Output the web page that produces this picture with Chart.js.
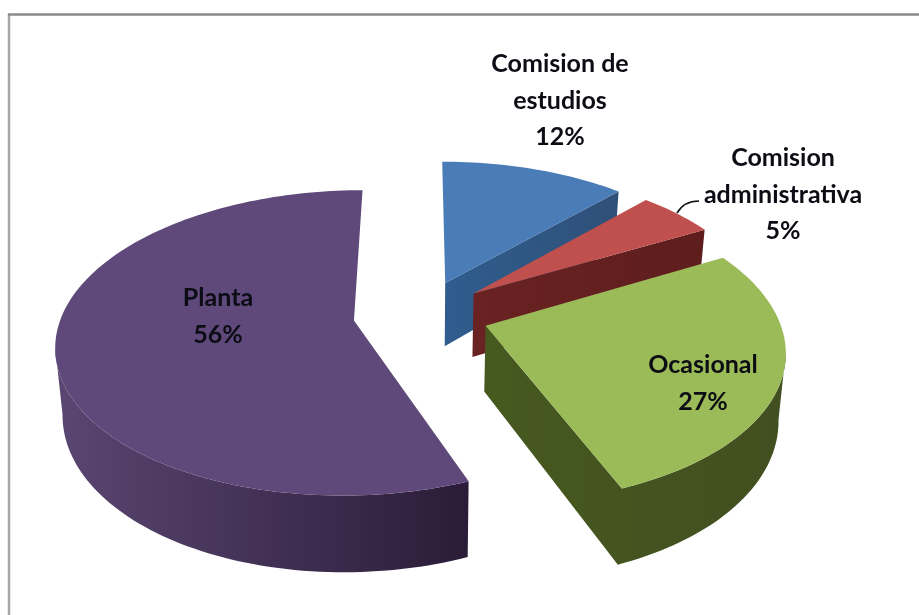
<!DOCTYPE html>
<html>
<head>
<meta charset="utf-8">
<style>html,body{margin:0;padding:0;background:#fff}#wrap{width:919px;height:615px}</style>
<script src="https://cdn.jsdelivr.net/npm/chart.js@4"></script>
</head>
<body>
<div id="wrap"><canvas id="c" width="919" height="615"></canvas></div>
<script>
const categories = ['Comision de estudios', 'Comision administrativa', 'Ocasional', 'Planta'];
const values = [12, 5, 27, 56];
const tickLabels = ['12%', '5%', '27%', '56%'];
const explode = [64, 64, 64, 64];
const topColors = ['#4a7cb8', '#c0504d', '#9bbb59', '#5f497a'];
const sideLight = ['#2f5d8e', '#6a2222', '#46591f', '#5a4672'];
const sideDark = ['#2f5078', '#5e1d1d', '#424f20', '#2a1c38'];
const labelLines = [['Comision de', 'estudios'], ['Comision', 'administrativa'], ['Ocasional'], ['Planta']];
const labelAnchors = [[560, 64], [783, 158], [703, 365], [218, 298]];
const view = {cx: 421, cy: 314, A: 292, B: 147.5, k: 0.146, depth: 65, shrink: 0.98};

function project(u, v) {
  const w = 1 + view.k * v;
  return {x: view.cx + view.A * u / w, y: view.cy - view.B * v / w, w};
}
function outline(arc) {
  const p = arc.getProps(['startAngle', 'endAngle', 'outerRadius']);
  const R = p.outerRadius, d = arc.options.offset / R;
  const a0 = p.startAngle + Math.PI / 2, a1 = p.endAngle + Math.PI / 2, m = (a0 + a1) / 2;
  const ou = d * Math.sin(m), ov = d * Math.cos(m);
  const pts = [project(ou, ov)];
  const n = Math.max(8, Math.ceil((a1 - a0) * 40));
  for (let i = 0; i <= n; i++) {
    const t = a0 + (a1 - a0) * i / n;
    pts.push(project(ou + Math.sin(t), ov + Math.cos(t)));
  }
  return pts;
}
function lower(q) {
  return {x: view.cx + (q.x - view.cx) * view.shrink, y: q.y + view.depth / q.w};
}
function fillWall(ctx, run) {
  ctx.beginPath();
  run.forEach((q, j) => j ? ctx.lineTo(q.x, q.y) : ctx.moveTo(q.x, q.y));
  run.slice().reverse().map(lower).forEach(q => ctx.lineTo(q.x, q.y));
  ctx.closePath(); ctx.fill();
}
const pie3d = {
  id: 'pie3d',
  beforeDraw(chart) {
    const ctx = chart.ctx;
    ctx.save();
    ctx.fillStyle = '#fff'; ctx.fillRect(0, 0, 919, 615);
    ctx.lineWidth = 2.5;
    ctx.strokeStyle = '#a6a6a6';
    ctx.beginPath(); ctx.moveTo(9, 14); ctx.lineTo(9, 615); ctx.stroke();
    ctx.strokeStyle = '#8a8a8a';
    ctx.beginPath(); ctx.moveTo(8, 14.5); ctx.lineTo(919, 14.5); ctx.stroke();
    ctx.restore();
  },
  beforeDatasetsDraw(chart) {
    const ctx = chart.ctx;
    const arcs = chart.getDatasetMeta(0).data;
    arcs.forEach((arc, i) => {
      const pts = outline(arc);
      const xs = pts.map(q => q.x);
      const g = ctx.createLinearGradient(Math.min(...xs), 0, Math.max(...xs), 0);
      g.addColorStop(0, sideLight[i]);
      g.addColorStop(1, sideDark[i]);
      ctx.save();
      ctx.fillStyle = g;
      let run = [];
      for (let j = 0; j < pts.length; j++) {
        const a = pts[j], b = pts[(j + 1) % pts.length];
        const radial = j === 0 || j === pts.length - 1;
        const steep = radial && Math.abs(b.x - a.x) < 0.1 * Math.abs(b.y - a.y);
        if (b.x < a.x && !steep) {
          if (!run.length) run.push(a);
          run.push(b);
        } else if (run.length) {
          fillWall(ctx, run); run = [];
        }
      }
      if (run.length) fillWall(ctx, run);
      ctx.fillStyle = topColors[i];
      ctx.beginPath();
      pts.forEach((q, j) => j ? ctx.lineTo(q.x, q.y) : ctx.moveTo(q.x, q.y));
      ctx.closePath(); ctx.fill();
      ctx.restore();
    });
    return false;
  },
  afterDraw(chart) {
    const ctx = chart.ctx;
    ctx.save();
    ctx.strokeStyle = '#111'; ctx.lineWidth = 1.6;
    ctx.beginPath(); ctx.moveTo(677, 213); ctx.quadraticCurveTo(684, 201, 699, 201); ctx.stroke();
    ctx.fillStyle = '#0c0c14';
    ctx.font = 'bold 25px Lato, "Open Sans", sans-serif';
    ctx.textAlign = 'center'; ctx.textBaseline = 'middle';
    labelLines.forEach((lines, i) => {
      const rows = lines.concat(tickLabels[i]);
      rows.forEach((t, j) => ctx.fillText(t, labelAnchors[i][0], labelAnchors[i][1] + j * 36.5));
    });
    ctx.restore();
  }
};
new Chart(document.getElementById('c'), {
  type: 'pie',
  data: {labels: categories, datasets: [{data: values, backgroundColor: topColors, offset: explode, borderWidth: 0}]},
  options: {
    responsive: false, animation: false,
    layout: {padding: 0},
    plugins: {legend: {display: false}, tooltip: {enabled: false}}
  },
  plugins: [pie3d]
});
</script>
</body>
</html>
